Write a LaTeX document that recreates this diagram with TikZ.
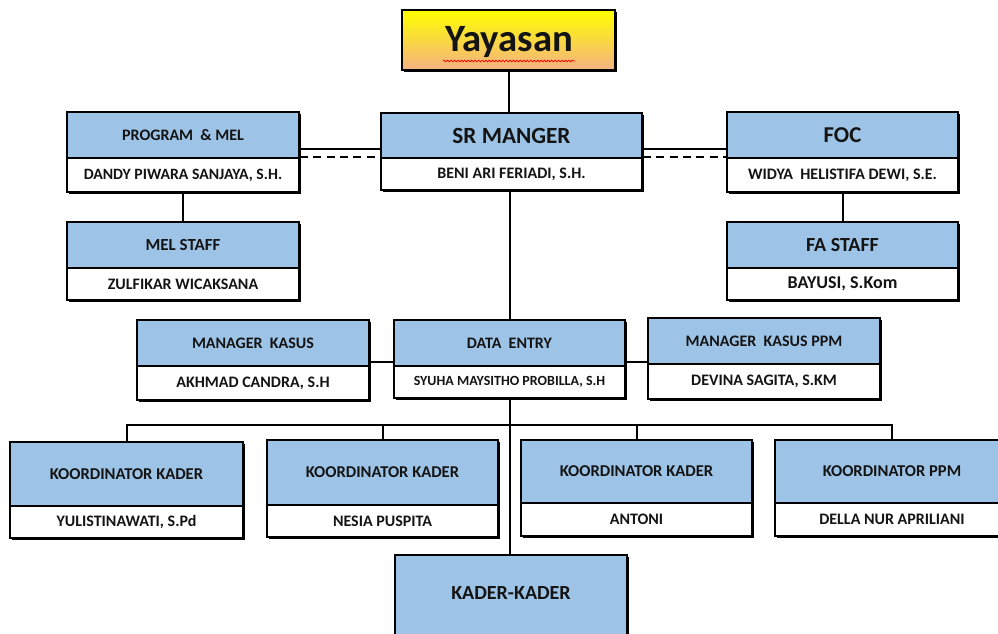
\documentclass[tikz,border=0pt]{standalone}
\usepackage{fontspec}
\setmainfont{Carlito}
\usetikzlibrary{fit,decorations.pathmorphing}
\definecolor{boxblue}{HTML}{9DC3E6}
\definecolor{peach}{HTML}{F4B183}
\definecolor{ink}{HTML}{141414}
\tikzset{
  topbox/.style={draw=black, line width=1.6pt, fill=boxblue, inner sep=0pt},
  botbox/.style={draw=black, line width=1.6pt, fill=white, inner sep=0pt},
  titletext/.style={inner sep=0pt, text=ink, font=\bfseries\fontsize{12}{14}\selectfont},
  nametext/.style={inner sep=0pt, text=ink, font=\bfseries\fontsize{12}{14}\selectfont},
  boxshadow/.style={fill=black},
  conn/.style={draw=black, line width=1.5pt},
  dashconn/.style={draw=black, line width=1.9pt, dash pattern=on 6pt off 4pt}
}
\newcommand\fsz[1]{\fontsize{#1}{#1}\selectfont}
% #1 name, #2 x1, #3 y1, #4 ymid, #5 x2, #6 y2, #7 title, #8 person
\newcommand\orgbox[8]{%
  \fill[boxshadow] (#2+1.8,#3+1.8) rectangle (#5+1.8,#6+1.8);
  \node[topbox, fit={(#2,#3)(#5,#4)}] (#1t) {};
  \node[botbox, fit={(#2,#4)(#5,#6)}] (#1b) {};
  \node[titletext] (#1tl) at (#1t.center) {#7};
  \node[nametext] (#1bl) at (#1b.center) {#8};
}
\begin{document}
\begin{tikzpicture}[x=0.75pt,y=-0.75pt]
\useasboundingbox (0,0) rectangle (998,633);
\clip (0,0) rectangle (998,633);
\fill[white] (0,0) rectangle (998,633);

% Yayasan
\fill[boxshadow] (403.8,11.8) rectangle (616.8,71.8);
\node[fit={(402,10)(615,70)}, draw=black, line width=1.6pt, top color=yellow, bottom color=peach, inner sep=0pt] (yay) {};
\node[inner sep=0pt, font=\bfseries\fontsize{29}{31}\selectfont, text=ink] (yayt) at (509,42) {Yayasan};
\draw[red, line width=0.6pt, decorate, decoration={snake, amplitude=0.6pt, segment length=2.6pt}] (443,61) -- (575,61);

% top row
\orgbox{pm}{67}{112}{158}{299}{192}{PROGRAM ~\& MEL}{{\fsz{11.8}DANDY PIWARA SANJAYA, S.H.}}
\orgbox{sr}{381}{113}{158}{642}{190}{{\fsz{17.4}SR MANGER}}{BENI ARI FERIADI, S.H.}
\orgbox{foc}{727}{112}{158}{958}{192}{{\fsz{17}FOC}}{WIDYA ~HELISTIFA DEWI, S.E.}

% staff row
\orgbox{ms}{67}{222}{268}{299}{300}{{\fsz{12.7}MEL STAFF}}{ZULFIKAR WICAKSANA}
\orgbox{fa}{727}{222}{268}{958}{300}{{\fsz{15}FA STAFF}}{{\fsz{13.5}BAYUSI, S.Kom}}

% middle row
\orgbox{mk}{137}{320}{366}{369}{400}{MANAGER ~KASUS}{AKHMAD CANDRA, S.H}
\orgbox{de}{394}{320}{366}{625}{398}{DATA ~ENTRY}{{\fsz{10.5}SYUHA MAYSITHO PROBILLA, S.H}}
\orgbox{mp}{648}{318}{364}{880}{399}{MANAGER ~KASUS PPM}{DEVINA SAGITA, S.KM}

% bottom row
\orgbox{ka}{10}{442}{506}{243}{538}{{\fsz{12.4}KOORDINATOR KADER}}{YULISTINAWATI, S.Pd}
\orgbox{kb}{267}{440}{505}{498}{537}{{\fsz{12.4}KOORDINATOR KADER}}{NESIA PUSPITA}
\orgbox{kc}{521}{440}{503}{752}{536}{{\fsz{12.4}KOORDINATOR KADER}}{ANTONI}
\orgbox{kd}{775}{440}{503}{1009}{536}{{\fsz{12.4}KOORDINATOR PPM}}{DELLA NUR APRILIANI}

% kader-kader
\fill[boxshadow] (396.8,556.8) rectangle (628.8,650);
\node[topbox, fit={(395,555)(627,648)}] (kk) {};
\node[inner sep=0pt, font=\bfseries\fontsize{15}{17}\selectfont, text=ink] (kkt) at (511,593) {KADER-KADER};

% helper coordinates
\coordinate (ya) at (0,149);
\coordinate (yb) at (0,157);
\coordinate (ym) at (0,362);
\coordinate (bus) at (0,425);

% connectors
\draw[conn] (yay.south) -- (yay.south |- srt.north);
\draw[conn] (pmt.east |- ya) -- (srt.west |- ya);
\draw[dashconn] (pmt.east |- yb) -- (srt.west |- yb);
\draw[conn] (srt.east |- ya) -- (foct.west |- ya);
\draw[dashconn] (srt.east |- yb) -- (foct.west |- yb);
\draw[conn] (pmb.south) -- (mst.north);
\draw[conn] (focb.south) -- (fat.north);
\draw[conn] (det.north |- srb.south) -- (det.north);
\draw[conn] (mkt.east |- ym) -- (det.west |- ym);
\draw[conn] (det.east |- ym) -- (mpt.west |- ym);
\draw[conn] (deb.south) -- (deb.south |- kk.north);
\draw[conn] (kat.north) -- (kat.north |- bus) -- (kdt.north |- bus) -- (kdt.north);
\draw[conn] (kbt.north) -- (kbt.north |- bus);
\draw[conn] (kct.north) -- (kct.north |- bus);
\end{tikzpicture}
\end{document}
